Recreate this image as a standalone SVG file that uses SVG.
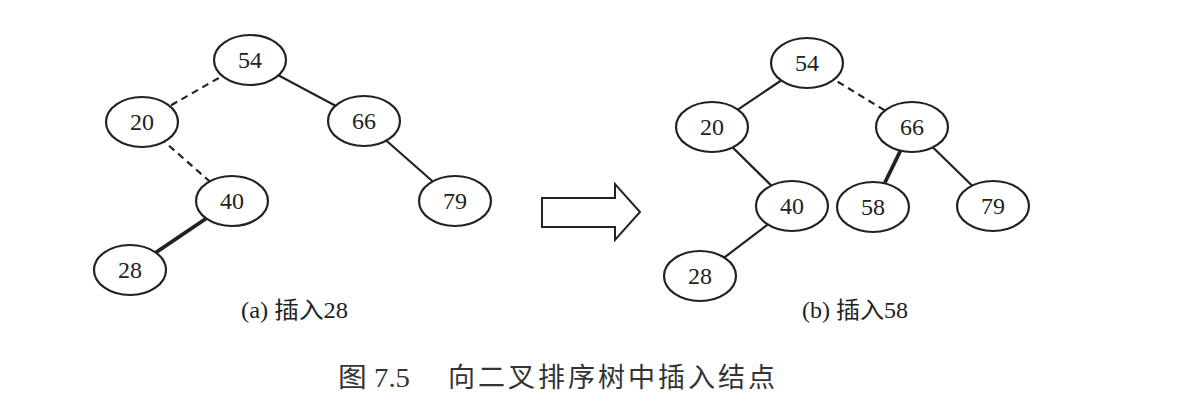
<svg xmlns="http://www.w3.org/2000/svg" width="1178" height="412" viewBox="0 0 1178 412">
<style>
.node ellipse{fill:#fff;stroke:#222;stroke-width:2.2}
.node text{font-family:"Liberation Serif","Noto Sans CJK SC",serif;font-size:24px;fill:#222;text-anchor:middle;dominant-baseline:central}
.edge{stroke:#222;stroke-width:2.2;fill:none}
.dash{stroke-dasharray:7 5}
.thick{stroke-width:3.8}
.lbl{font-family:"Liberation Serif","Noto Sans CJK SC",serif;font-size:23px;fill:#222}
.cap{font-family:"Liberation Serif","Noto Sans CJK SC",serif;font-size:27px;fill:#333}
</style>
<rect width="1178" height="412" fill="#fff"/>
<g id="connectors">
<line class="edge dash" x1="250" y1="60" x2="142" y2="122"/>
<line class="edge dash" x1="142" y1="122" x2="232" y2="201"/>
<line class="edge" x1="250" y1="60" x2="364" y2="121"/>
<line class="edge" x1="364" y1="121" x2="455" y2="201"/>
<line class="edge thick" x1="232" y1="201" x2="130" y2="270"/>
<line class="edge" x1="807" y1="63" x2="712" y2="127"/>
<line class="edge dash" x1="807" y1="63" x2="912" y2="127"/>
<line class="edge" x1="712" y1="127" x2="792" y2="206"/>
<line class="edge" x1="792" y1="206" x2="700" y2="276"/>
<line class="edge thick" x1="912" y1="127" x2="873" y2="207"/>
<line class="edge" x1="912" y1="127" x2="993" y2="206"/>
</g>
<g id="a54" class="node"><ellipse cx="250" cy="60" rx="36" ry="25"/><text x="250" y="60">54</text></g>
<g id="a20" class="node"><ellipse cx="142" cy="122" rx="36" ry="25"/><text x="142" y="122">20</text></g>
<g id="a66" class="node"><ellipse cx="364" cy="121" rx="36" ry="25"/><text x="364" y="121">66</text></g>
<g id="a40" class="node"><ellipse cx="232" cy="201" rx="36" ry="25"/><text x="232" y="201">40</text></g>
<g id="a79" class="node"><ellipse cx="455" cy="201" rx="36" ry="25"/><text x="455" y="201">79</text></g>
<g id="a28" class="node"><ellipse cx="130" cy="270" rx="36" ry="25"/><text x="130" y="270">28</text></g>
<g id="b54" class="node"><ellipse cx="807" cy="63" rx="36" ry="25"/><text x="807" y="63">54</text></g>
<g id="b20" class="node"><ellipse cx="712" cy="127" rx="36" ry="25"/><text x="712" y="127">20</text></g>
<g id="b66" class="node"><ellipse cx="912" cy="127" rx="36" ry="25"/><text x="912" y="127">66</text></g>
<g id="b40" class="node"><ellipse cx="792" cy="206" rx="36" ry="25"/><text x="792" y="206">40</text></g>
<g id="b58" class="node"><ellipse cx="873" cy="207" rx="36" ry="25"/><text x="873" y="207">58</text></g>
<g id="b79" class="node"><ellipse cx="993" cy="206" rx="36" ry="25"/><text x="993" y="206">79</text></g>
<g id="b28" class="node"><ellipse cx="700" cy="276" rx="36" ry="25"/><text x="700" y="276">28</text></g>
<g id="arrow"><polygon points="542,198 615,198 615,184 640,212 615,240 615,227 542,227" fill="#fff" stroke="#222" stroke-width="2"/></g>
<text class="lbl" x="241" y="318" textLength="107" lengthAdjust="spacingAndGlyphs">(a) 插入28</text>
<text class="lbl" x="802" y="318" textLength="106" lengthAdjust="spacingAndGlyphs">(b) 插入58</text>
<text class="cap" x="338" y="387" textLength="72" lengthAdjust="spacingAndGlyphs">图 7.5</text>
<text class="cap" x="448" y="387" textLength="327" lengthAdjust="spacing">向二叉排序树中插入结点</text>
</svg>
